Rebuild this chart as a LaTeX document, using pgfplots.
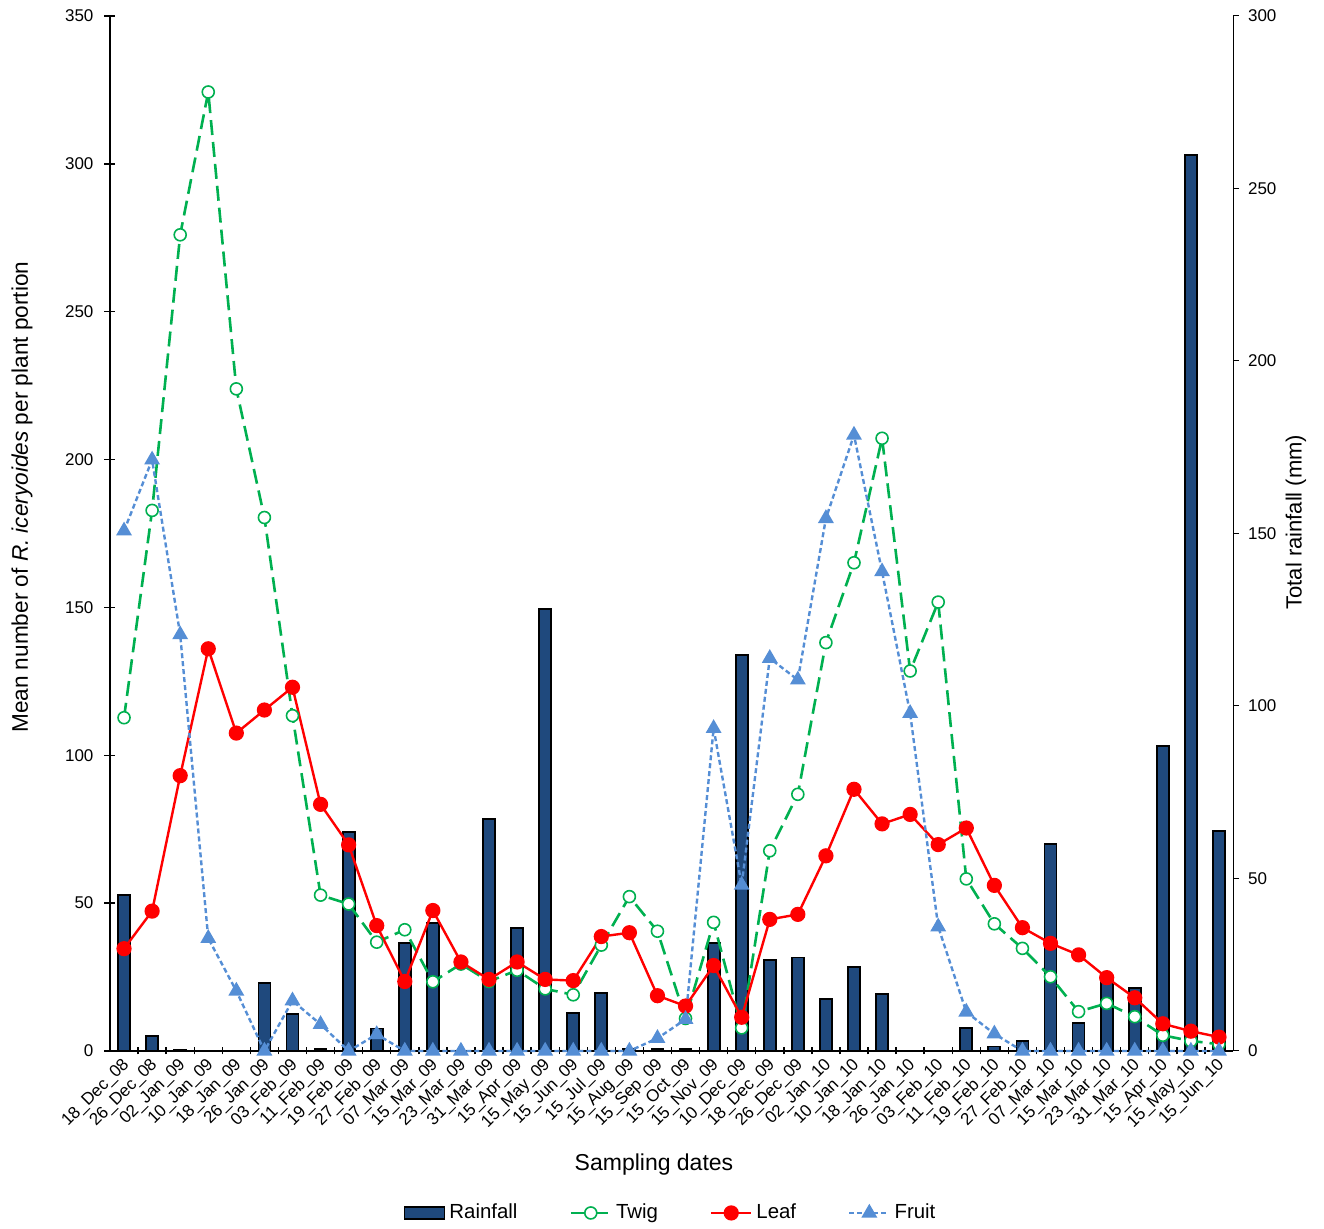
\documentclass[border=0pt]{standalone}
\usepackage{pgfplots}
\usepackage{pgfplotstable}
\pgfplotsset{compat=1.18}
\usepackage{fontspec}
\setmainfont{Liberation Sans}
\definecolor{rainc}{HTML}{1F497D}
\definecolor{twigc}{HTML}{00B050}
\definecolor{leafc}{HTML}{FF0000}
\definecolor{fruitc}{HTML}{558ED5}

\pgfplotstableread{
i rain twig leaf fruit
0 45.1 112.7 34.6 175.9
1 4.4 182.8 47.3 199.9
2 0.4 276.0 93.1 140.8
3 0 324.3 136.0 38.1
4 0 223.9 107.5 20.3
5 19.7 180.4 115.3 0
6 10.8 113.4 123.0 17.0
7 0.5 52.7 83.4 9.0
8 63.5 49.7 69.7 0
9 6.5 36.8 42.4 5.6
10 31.2 41.0 23.5 0
11 37.2 23.4 47.5 0
12 0 29.4 30.1 0
13 67.2 23.5 24.2 0
14 35.7 27.3 30.1 0
15 128.1 21.0 24.2 0
16 10.9 19.0 23.8 0
17 16.9 35.8 38.7 0
18 0.5 52.2 40.0 0
19 0.5 40.5 18.7 4.3
20 0.5 11.0 15.2 10.7
21 31.2 43.5 28.9 109.1
22 114.8 7.8 11.4 56.1
23 26.3 67.7 44.5 132.8
24 27.1 86.8 46.2 125.5
25 15.1 138.1 66.0 180.1
26 24.3 165.1 88.5 208.3
27 16.5 207.2 76.8 162.1
28 0 128.5 80.0 114.2
29 0 151.8 69.8 42.0
30 6.6 58.2 75.4 13.2
31 1.3 43.0 56.0 5.8
32 2.8 34.7 41.7 0
33 59.9 25.1 36.4 0
34 8.0 13.3 32.5 0
35 20.8 16.1 24.8 0
36 18.2 11.6 18.0 0
37 88.5 5.3 9.2 0
38 259.7 3.4 6.7 0
39 63.8 2.3 4.7 0
}\data

\pgfplotsset{
  base/.style={
    at={(55pt,89pt)}, anchor=south west,
    scale only axis, width=561.5pt, height=517.5pt,
    xmin=-0.5, xmax=39.5,
    /pgf/number format/assume math mode=true,
    tick label style={font=\fontsize{8.5}{10}\selectfont},
    clip=false,
  },
  linelegend/.style={legend image code/.code={%
    \draw[mark repeat=2,mark phase=2,##1] plot coordinates {(0pt,0pt) (10pt,0pt) (20pt,0pt)};}},
}

\begin{document}
\begin{tikzpicture}
\useasboundingbox (0,0) rectangle (662pt,614.5pt);
% rainfall bars, right axis
\begin{axis}[base,
  axis y line*=right, axis x line=none,
  ymin=0, ymax=300, ytick={0,50,...,300},
  tick align=outside, major tick length=3pt,
  y axis line style={line width=0.5pt},
  ytick style={line width=0.5pt, black},
  yticklabel style={xshift=1pt},
  ylabel={Total rainfall (mm)},
  every axis y label/.style={at={(axis description cs:1.0561,0.511)}, rotate=90, anchor=center, font=\fontsize{11}{13}\selectfont},
  ybar, bar width=6pt,
]
\addplot[ybar, fill=rainc, draw=black, line width=0.9pt] table[x=i, y=rain]{\data};
\end{axis}
% insect counts, left axis
\begin{axis}[base,
  axis y line*=left, axis x line*=bottom,
  ymin=0, ymax=350, ytick={0,50,...,350},
  axis line style={line width=1.1pt},
  tick align=center, major tick length=5.5pt, minor tick length=3.5pt,
  ytick style={line width=0.7pt, black},
  yticklabel style={xshift=-2pt},
  xtick={0,...,39},
  major x tick style={draw=none},
  minor xtick={0.5,1.5,...,38.5},
  minor x tick style={line width=0.7pt, black},
  xticklabels={18\_Dec\_08, 26\_Dec\_08, 02\_Jan\_09, 10\_Jan\_09, 18\_Jan\_09, 26\_Jan\_09, 03\_Feb\_09, 11\_Feb\_09, 19\_Feb\_09, 27\_Feb\_09, 07\_Mar\_09, 15\_Mar\_09, 23\_Mar\_09, 31\_Mar\_09, 15\_Apr\_09, 15\_May\_09, 15\_Jun\_09, 15\_Jul\_09, 15\_Aug\_09, 15\_Sep\_09, 15\_Oct\_09, 15\_Nov\_09, 10\_Dec\_09, 18\_Dec\_09, 26\_Dec\_09, 02\_Jan\_10, 10\_Jan\_10, 18\_Jan\_10, 26\_Jan\_10, 03\_Feb\_10, 11\_Feb\_10, 19\_Feb\_10, 27\_Feb\_10, 07\_Mar\_10, 15\_Mar\_10, 23\_Mar\_10, 31\_Mar\_10, 15\_Apr\_10, 15\_May\_10, 15\_Jun\_10},
  xticklabel style={rotate=45, anchor=east, inner sep=1pt, yshift=-3pt},
  xlabel={Sampling dates},
  every axis x label/.style={at={(axis description cs:0.4844,-0.1101)}, anchor=center, font=\fontsize{11.5}{13}\selectfont},
  ylabel={Mean number of \textit{R. iceryoides} per plant portion},
  every axis y label/.style={at={(axis description cs:-0.0784,0.535)}, rotate=90, anchor=center, font=\fontsize{11.3}{13}\selectfont},
  legend style={at={(0.5,-0.1565)}, anchor=center, legend columns=4, draw=none,
    font=\fontsize{10.2}{12}\selectfont,
    /tikz/every even column/.append style={column sep=24pt}},
]
\addlegendimage{legend image code/.code={\draw[fill=rainc, draw=black, line width=0.9pt] (0pt,-3pt) rectangle (20pt,3pt);}}
\addlegendentry{Rainfall}
\addplot[linelegend, twigc, line width=1.3pt, dash pattern=on 7.5pt off 3.5pt,
  mark=*, mark size=3pt, mark options={solid, fill=white, draw=twigc, line width=0.8pt}]
  table[x=i, y=twig]{\data};
\addlegendentry{Twig}
\addplot[linelegend, leafc, line width=1.2pt,
  mark=*, mark size=3.2pt, mark options={solid, fill=leafc, draw=leafc}]
  table[x=i, y=leaf]{\data};
\addlegendentry{Leaf}
\addplot[linelegend, fruitc, line width=1.2pt, dash pattern=on 2.5pt off 1.5pt,
  mark=triangle*, mark size=3.4pt, mark options={solid, fill=fruitc, draw=fruitc}]
  table[x=i, y=fruit]{\data};
\addlegendentry{Fruit}
\end{axis}
\end{tikzpicture}
\end{document}
